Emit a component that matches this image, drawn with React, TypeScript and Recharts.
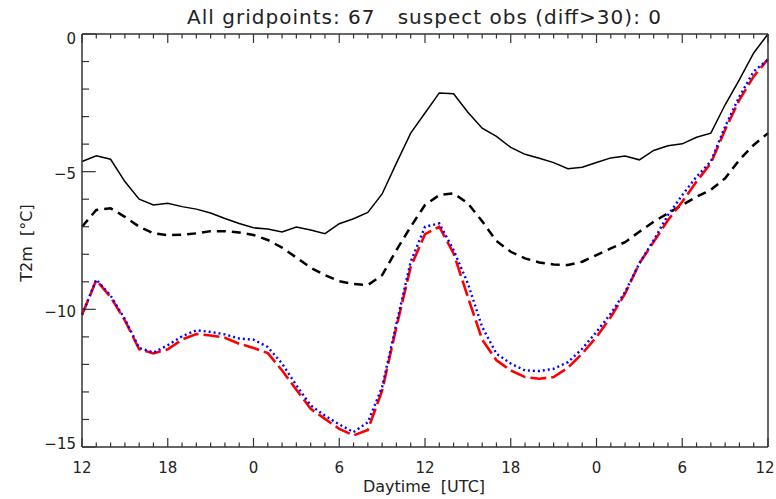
import React from "react";
import { LineChart, Line, XAxis, YAxis } from "recharts";

// hour offset from 12 UTC of day 1 (0..48)
const hours = Array.from({ length: 49 }, (_, i) => i);
const hourLabels = ["12", "18", "0", "6", "12", "18", "0", "6", "12"];
const yTicks = [-15, -14, -13, -12, -11, -10, -9, -8, -7, -6, -5, -4, -3, -2, -1, 0];

// black solid
const solidBlack = [
  -4.63, -4.42, -4.55, -5.36, -6.0, -6.21, -6.15, -6.27, -6.36, -6.5,
  -6.7, -6.88, -7.04, -7.08, -7.19, -7.01, -7.12, -7.25, -6.89, -6.71,
  -6.48, -5.81, -4.69, -3.6, -2.87, -2.14, -2.17, -2.84, -3.42, -3.72,
  -4.12, -4.37, -4.51, -4.67, -4.89, -4.84, -4.67, -4.5, -4.43, -4.57,
  -4.23, -4.06, -3.99, -3.75, -3.6, -2.57, -1.66, -0.69, 0,
];
// black dashed
const dashedBlack = [
  -7.0, -6.39, -6.33, -6.64, -7.0, -7.24, -7.31, -7.29, -7.24, -7.16,
  -7.16, -7.21, -7.3, -7.48, -7.76, -8.12, -8.49, -8.76, -8.98, -9.08,
  -9.12, -8.76, -7.85, -7.0, -6.21, -5.85, -5.79, -6.15, -6.8, -7.52,
  -7.91, -8.15, -8.3, -8.37, -8.39, -8.27, -8.03, -7.79, -7.56, -7.18,
  -6.82, -6.51, -6.21, -5.91, -5.66, -5.24, -4.57, -4.03, -3.6,
];
// red long dash
const redDash = [
  -10.21, -8.94, -9.55, -10.4, -11.45, -11.6, -11.45, -11.1, -10.9, -10.95,
  -11.03, -11.25, -11.4, -11.59, -12.22, -12.92, -13.61, -13.98, -14.34, -14.58,
  -14.38, -12.95, -10.64, -8.46, -7.27, -7.0, -7.97, -9.55, -11.1, -11.85,
  -12.22, -12.46, -12.52, -12.46, -12.12, -11.61, -11.0, -10.28, -9.43, -8.33,
  -7.55, -6.76, -6.09, -5.36, -4.69, -3.48, -2.39, -1.54, -0.91,
];
// blue dotted
const blueDot = [
  -10.2, -8.92, -9.5, -10.35, -11.4, -11.57, -11.3, -10.98, -10.76, -10.82,
  -10.91, -11.06, -11.1, -11.37, -11.97, -12.76, -13.49, -13.86, -14.18, -14.46,
  -14.1, -12.82, -10.52, -8.27, -7.0, -6.88, -7.85, -9.06, -10.64, -11.61,
  -11.97, -12.22, -12.24, -12.16, -11.92, -11.43, -10.82, -10.15, -9.37, -8.33,
  -7.49, -6.58, -5.85, -5.18, -4.63, -3.36, -2.27, -1.36, -0.93,
];

const rows = hours.map((h, i) => ({
  h,
  solid: solidBlack[i],
  dashed: dashedBlack[i],
  red: redDash[i],
  blue: blueDot[i],
}));

const AXIS = "#333";
const FONT = "'DejaVu Sans', sans-serif";

function BottomTick(p: any) {
  const h = p.payload.value;
  const major = h % 6 === 0;
  // keep the last label inside the picture
  const lx = h === 48 ? p.x - 3 : p.x;
  return (
    <g>
      <line x1={p.x} x2={p.x} y1={p.y} y2={p.y - (major ? 9 : 4.5)} stroke={AXIS} strokeWidth={1.2} />
      {major && (
        <text x={lx} y={p.y + 26} textAnchor="middle" fontFamily={FONT} fontSize={15} fill="#222">
          {hourLabels[h / 6]}
        </text>
      )}
    </g>
  );
}

function TopTick(p: any) {
  const major = p.payload.value % 6 === 0;
  return <line x1={p.x} x2={p.x} y1={p.y} y2={p.y + (major ? 9 : 4.5)} stroke={AXIS} strokeWidth={1.2} />;
}

function LeftTick(p: any) {
  const v = p.payload.value;
  const major = v % 5 === 0;
  const dy = v === 0 ? 10 : v === -15 ? 1.5 : 7.6;
  return (
    <g>
      <line x1={p.x} x2={p.x + (major ? 13.7 : 7)} y1={p.y} y2={p.y} stroke={AXIS} strokeWidth={1.2} />
      {major && (
        <text x={p.x - 6} y={p.y + dy} textAnchor="end" fontFamily={FONT} fontSize={15} fill="#222">
          {v < 0 ? "\u2212" + Math.abs(v) : String(v)}
        </text>
      )}
    </g>
  );
}

function RightTick(p: any) {
  const major = p.payload.value % 5 === 0;
  return <line x1={p.x} x2={p.x - (major ? 13.7 : 7)} y1={p.y} y2={p.y} stroke={AXIS} strokeWidth={1.2} />;
}

export default function App() {
  const axisLine = { stroke: AXIS, strokeWidth: 1.5 };
  return (
    <div style={{ position: "absolute", left: 0, top: 0, width: 776, height: 499, background: "#fff" }}>
      <LineChart width={776} height={499} data={rows} margin={{ top: 0, right: 0, bottom: 0, left: 0 }}>
        <XAxis
          xAxisId="b"
          dataKey="h"
          type="number"
          domain={[0, 48]}
          ticks={hours}
          interval={0}
          tickSize={0}
          tickMargin={0}
          tick={BottomTick}
          axisLine={axisLine}
          tickLine={false}
          height={52}
        />
        <XAxis
          xAxisId="t"
          orientation="top"
          dataKey="h"
          type="number"
          domain={[0, 48]}
          ticks={hours}
          interval={0}
          tickSize={0}
          tickMargin={0}
          tick={TopTick}
          axisLine={axisLine}
          tickLine={false}
          height={34}
        />
        <YAxis
          yAxisId="l"
          type="number"
          domain={[-15, 0]}
          ticks={yTicks}
          interval={0}
          tickSize={0}
          tickMargin={0}
          tick={LeftTick}
          axisLine={axisLine}
          tickLine={false}
          width={82}
        />
        <YAxis
          yAxisId="r"
          orientation="right"
          type="number"
          domain={[-15, 0]}
          ticks={yTicks}
          interval={0}
          tickSize={0}
          tickMargin={0}
          tick={RightTick}
          axisLine={axisLine}
          tickLine={false}
          width={8}
        />
        <Line xAxisId="b" yAxisId="l" type="linear" dataKey="solid" stroke="#000" strokeWidth={1.5} dot={false} isAnimationActive={false} />
        <Line xAxisId="b" yAxisId="l" type="linear" dataKey="dashed" stroke="#000" strokeWidth={2.5} strokeDasharray="9 6" dot={false} isAnimationActive={false} />
        <Line xAxisId="b" yAxisId="l" type="linear" dataKey="red" stroke="#ff0000" strokeWidth={2.6} strokeDasharray="16 5" dot={false} isAnimationActive={false} />
        <Line xAxisId="b" yAxisId="l" type="linear" dataKey="blue" stroke="#0000ff" strokeWidth={2.4} strokeDasharray="2 3" dot={false} isAnimationActive={false} />
      </LineChart>
      <svg width={776} height={499} style={{ position: "absolute", left: 0, top: 0, pointerEvents: "none" }}>
        <text x={424} y={24} textAnchor="middle" fontFamily={FONT} fontSize={20} fill="#222" textLength={474} lengthAdjust="spacing" style={{ whiteSpace: "pre" }}>
          {"All gridpoints: 67   suspect obs (diff>30): 0"}
        </text>
        <text x={424} y={492} textAnchor="middle" fontFamily={FONT} fontSize={16} fill="#222" style={{ whiteSpace: "pre" }}>
          {"Daytime  [UTC]"}
        </text>
        <text transform="translate(32,243) rotate(-90)" textAnchor="middle" fontFamily={FONT} fontSize={16} fill="#222" style={{ whiteSpace: "pre" }}>
          {"T2m  [°C]"}
        </text>
      </svg>
    </div>
  );
}
